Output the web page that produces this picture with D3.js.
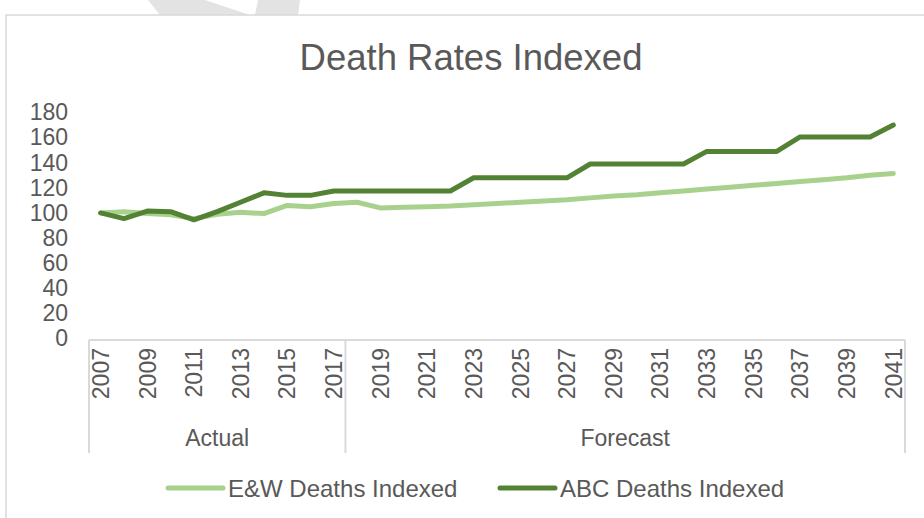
<!DOCTYPE html>
<html>
<head>
<meta charset="utf-8">
<script src="https://cdn.jsdelivr.net/npm/d3@7"></script>
<style>
  html, body { margin: 0; padding: 0; background: #fff; }
  svg { display: block; font-family: "Liberation Sans", Arial, sans-serif; }
</style>
</head>
<body>
<svg id="chart" width="924" height="518"></svg>
<script>
// Years on the category axis
const years = d3.range(2007, 2042);

// Index values (2007 = 100)
const ewDeaths = [100, 101, 99.5, 98.5, 95.5, 99, 100.5, 99.5, 106, 105, 107.5, 108.5,
  104, 104.5, 105, 105.5, 106.5, 107.5, 108.5, 109.5, 110.5, 112, 113.5, 114.5,
  116, 117.5, 119, 120.5, 122, 123.5, 125, 126.5, 128, 130, 131.5];
const abcDeaths = [100, 95.5, 101.5, 101, 94.5, 101, 108.5, 116, 114, 114, 117.5,
  117.5, 117.5, 117.5, 117.5, 117.5,
  128, 128, 128, 128, 128,
  139, 139, 139, 139, 139,
  149, 149, 149, 149,
  160.5, 160.5, 160.5, 160.5,
  170];

// Period groups shown beneath the year labels
const groups = [
  { name: "Actual", from: 2007, to: 2017 },
  { name: "Forecast", from: 2018, to: 2041 }
];

const yTicks = d3.range(0, 181, 20);

const series = [
  { name: "E&W Deaths Indexed", values: ewDeaths, color: "#a9d18e" },
  { name: "ABC Deaths Indexed", values: abcDeaths, color: "#548235" }
];

const svg = d3.select("#chart");
const textColor = "#595959";
const frameColor = "#d9d9d9";

// Decorative shapes peeking out above the chart frame
svg.append("polygon")
  .attr("points", "148,0 205,0 250,15 160,15")
  .attr("fill", "#e3e3e3");
svg.append("polygon")
  .attr("points", "258,0 300,0 298,15 255,15")
  .attr("fill", "#e3e3e3");

// Chart frame
svg.append("rect")
  .attr("x", 6).attr("y", 15)
  .attr("width", 930).attr("height", 520)
  .attr("fill", "#fff")
  .attr("stroke", frameColor)
  .attr("stroke-width", 1.5);

// Title
svg.append("text")
  .attr("x", 471).attr("y", 70)
  .attr("text-anchor", "middle")
  .attr("font-size", 36.5)
  .attr("fill", textColor)
  .text("Death Rates Indexed");

const x = d3.scaleBand().domain(years).range([89, 905]).padding(0);
const cx = d => x(d) + x.bandwidth() / 2;
const y = d3.scaleLinear().domain([0, 180]).range([338.5, 112.5]);

// Y axis labels (no axis line)
const yAxis = svg.append("g")
  .attr("transform", "translate(68,0)")
  .call(d3.axisLeft(y).tickValues(yTicks).tickSize(0).tickPadding(0));
yAxis.select(".domain").remove();
yAxis.selectAll("text")
  .attr("font-size", 23)
  .attr("font-family", "Liberation Sans, Arial, sans-serif")
  .attr("fill", textColor);

// Category axis line and group separators
const axisY = 340;
const sepBottom = 453;
svg.append("line")
  .attr("x1", 89).attr("x2", 905)
  .attr("y1", axisY).attr("y2", axisY)
  .attr("stroke", frameColor).attr("stroke-width", 2);

const bounds = [x(groups[0].from), x(groups[1].from), x(groups[1].to) + x.bandwidth()];
svg.selectAll("line.sep")
  .data(bounds)
  .join("line")
  .attr("class", "sep")
  .attr("x1", d => d).attr("x2", d => d)
  .attr("y1", axisY).attr("y2", sepBottom)
  .attr("stroke", frameColor).attr("stroke-width", 2);

// Year labels, every other year, rotated
svg.selectAll("text.year")
  .data(years.filter((d, i) => i % 2 === 0))
  .join("text")
  .attr("class", "year")
  .attr("transform", d => `translate(${cx(d)},${348}) rotate(-90)`)
  .attr("text-anchor", "end")
  .attr("dy", "0.36em")
  .attr("font-size", 23)
  .attr("fill", textColor)
  .text(d => d);

// Group labels
svg.selectAll("text.group")
  .data(groups)
  .join("text")
  .attr("class", "group")
  .attr("x", d => (x(d.from) + x(d.to) + x.bandwidth()) / 2)
  .attr("y", 446)
  .attr("text-anchor", "middle")
  .attr("font-size", 23)
  .attr("fill", textColor)
  .text(d => d.name);

// Series lines
const line = d3.line()
  .x((d, i) => cx(years[i]))
  .y(d => y(d));

svg.selectAll("path.series")
  .data(series)
  .join("path")
  .attr("class", "series")
  .attr("d", d => line(d.values))
  .attr("fill", "none")
  .attr("stroke", d => d.color)
  .attr("stroke-width", 5)
  .attr("stroke-linejoin", "round")
  .attr("stroke-linecap", "round");

// Legend
const legendItems = [
  { s: series[0], x: 168 },
  { s: series[1], x: 500 }
];
const lg = svg.selectAll("g.legend")
  .data(legendItems)
  .join("g")
  .attr("class", "legend")
  .attr("transform", d => `translate(${d.x},488)`);
lg.append("line")
  .attr("x1", 0).attr("x2", 55)
  .attr("y1", 0).attr("y2", 0)
  .attr("stroke", d => d.s.color)
  .attr("stroke-width", 5)
  .attr("stroke-linecap", "round");
lg.append("text")
  .attr("x", 60).attr("y", 9)
  .attr("font-size", 24)
  .attr("fill", textColor)
  .text(d => d.s.name);
</script>
</body>
</html>
